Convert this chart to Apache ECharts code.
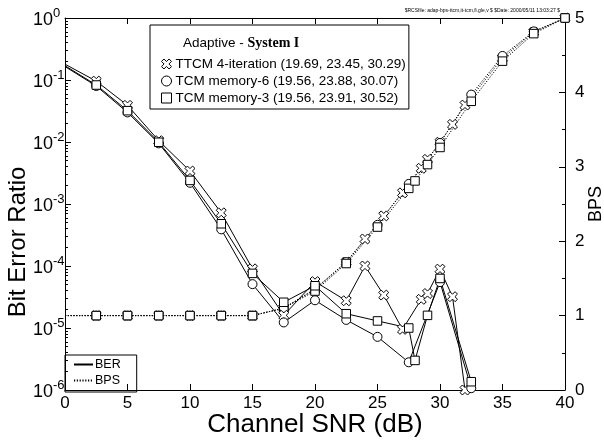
<!DOCTYPE html>
<html>
<head>
<meta charset="utf-8">
<script src="https://cdn.jsdelivr.net/npm/echarts@6/dist/echarts.min.js"></script>
<style>
  html, body { margin: 0; padding: 0; background: #fff; }
  #chart { width: 604px; height: 441px; }
</style>
</head>
<body>
<div id="chart"></div>
<script>
// TTCM 4-iteration (cross markers)
const snrTtcm = [0, 2.5, 5, 7.5, 10, 12.5, 15, 17.5, 20, 22.5, 24, 25.5, 27, 28.5, 29, 30, 31, 32, 35, 37.5, 40]
const berTtcm = [0.18, 0.096, 0.039, 0.0105, 0.0034, 7.2e-4, 9e-5, 1.6e-5, 5.6e-5, 2.75e-5, 1.0e-4, 3.4e-5, 9.5e-6, 2.9e-5, 3.6e-5, 8.9e-5, 3.2e-5, 1.0e-6, null, null, null]
const bpsTtcm = [1, 1, 1, 1, 1, 1, 1, 1.1, 1.35, 1.72, 2.03, 2.34, 2.65, 2.98, 3.1, 3.33, 3.57, 3.83, 4.46, 4.81, 5.0]

// TCM memory-6 (circle markers)
const snrMem6 = [0, 2.5, 5, 7.5, 10, 12.5, 15, 17.5, 20, 22.5, 25, 27.5, 30, 32.5, 35, 37.5, 40]
const berMem6 = [0.165, 0.08, 0.03, 0.0095, 0.0022, 3.9e-4, 5.1e-5, 1.23e-5, 2.8e-5, 1.35e-5, 7.2e-6, 2.8e-6, 5.5e-5, 1.07e-6, null, null, null]
const bpsMem6 = [1, 1, 1, 1, 1, 1, 1, 1.1, 1.36, 1.72, 2.22, 2.77, 3.32, 3.97, 4.49, 4.82, 5.0]

// TCM memory-3 (square markers)
const snrMem3 = [0, 2.5, 5, 7.5, 10, 12.5, 15, 17.5, 20, 22.5, 25, 27.5, 28, 29, 30, 32.5, 35, 37.5, 40]
const berMem3 = [0.17, 0.083, 0.032, 0.0099, 0.0024, 4.8e-4, 7.6e-5, 2.6e-5, 4.8e-5, 1.7e-5, 1.3e-5, 1.0e-5, 3.0e-6, 1.6e-5, 6.3e-5, 1.36e-6, null, null, null]
const bpsMem3 = [1, 1, 1, 1, 1, 1, 1, 1.1, 1.33, 1.7, 2.19, 2.71, 2.81, 3.03, 3.26, 3.88, 4.42, 4.79, 5.0]

const nameTtcm = 'TTCM 4-iteration (19.69, 23.45, 30.29)'
const nameMem6 = 'TCM memory-6 (19.56, 23.88, 30.07)'
const nameMem3 = 'TCM memory-3 (19.56, 23.91, 30.52)'

const berThreshold = 1e-4
const rcsText = '$RCSfile: adap-bps-ttcm,it-tcm,fi.gle,v $ $Date: 2000/05/11 13:03:27 $'

const FONT = '"Liberation Sans", Arial, sans-serif'
const crossPath = 'path://M7.4,0.33L9.67,2.6L7.26,5L9.67,7.4L7.4,9.67L5,7.26L2.6,9.67L0.33,7.4L2.74,5L0.33,2.6L2.6,0.33L5,2.74Z'
const DOTS = [1.2, 1.6]

// minor ticks of the log axis, in log10 units (2..9 x 10^n)
const minorLogTicks = []
for (let e = -6; e < 0; e++) {
  for (let k = 2; k <= 9; k++) minorLogTicks.push(e + Math.log10(k))
}

function pairs(xs, ys) {
  const out = []
  xs.forEach((x, i) => {
    if (ys[i] == null) return
    // the curves start on the axis without a marker
    out.push(x === 0 ? { value: [x, ys[i]], symbol: 'none' } : [x, ys[i]])
  })
  return out
}

const markerStyle = { color: '#fff', borderColor: '#000', borderWidth: 1 }

function makeSeries(name, symbol, size, xs, ys, axis, dotted) {
  return {
    name,
    type: 'line',
    yAxisIndex: axis,
    data: pairs(xs, ys),
    symbol,
    symbolSize: size,
    showAllSymbol: true,
    clip: false,
    lineStyle: { color: '#000', width: 1, type: dotted ? DOTS : 'solid' },
    itemStyle: markerStyle,
    emphasis: { disabled: true },
    z: dotted ? 2 : 3,
  }
}

const series = [
  makeSeries(nameTtcm, crossPath, 10, snrTtcm, berTtcm, 0, false),
  makeSeries(nameMem6, 'circle', 9, snrMem6, berMem6, 0, false),
  makeSeries(nameMem3, 'rect', 8.5, snrMem3, berMem3, 0, false),
  makeSeries(nameTtcm, crossPath, 10, snrTtcm, bpsTtcm, 1, true),
  makeSeries(nameMem6, 'circle', 9, snrMem6, bpsMem6, 1, true),
  makeSeries(nameMem3, 'rect', 8.5, snrMem3, bpsMem3, 1, true),
  { name: 'BER', type: 'line', data: [], symbol: 'none', itemStyle: { color: '#000' }, lineStyle: { color: '#000', width: 1 } },
  { name: 'BPS', type: 'line', data: [], symbol: 'none', yAxisIndex: 1, itemStyle: { color: '#000' }, lineStyle: { color: '#000', width: 1, type: DOTS } },
]

series[2].markLine = {
  silent: true,
  symbol: 'none',
  lineStyle: { color: '#000', width: 1, type: [1.2, 1.8] },
  label: {
    formatter: '0.01 percent',
    position: 'insideEndTop',
    color: '#000',
    fontFamily: FONT,
    fontSize: 13,
    padding: [0, 16, 0, 0],
  },
  data: [{ yAxis: berThreshold }],
}

const axisLine = { show: true, onZero: false, lineStyle: { color: '#000', width: 1 } }

const chart = echarts.init(document.getElementById('chart'), null, { renderer: 'canvas' })
chart.setOption({
  animation: false,
  backgroundColor: '#fff',
  textStyle: { fontFamily: FONT, color: '#000' },
  title: [
    {
      text: '{a|Adaptive - }{b|System I}',
      left: 183,
      top: 36,
      padding: 0,
      textStyle: {
        fontWeight: 'normal',
        rich: {
          a: { fontFamily: FONT, fontSize: 13.5, fontWeight: 'normal', color: '#000' },
          b: { fontFamily: '"Liberation Serif", "Times New Roman", serif', fontSize: 14, fontWeight: 'bold', color: '#000' },
        },
      },
    },
    {
      text: rcsText,
      right: 44,
      top: 8,
      padding: 0,
      textStyle: { fontFamily: FONT, fontSize: 5, fontWeight: 'normal', color: '#000' },
    },
  ],
  legend: [
    {
      data: [
        { name: nameTtcm, icon: crossPath },
        { name: nameMem6, icon: 'circle' },
        { name: nameMem3, icon: 'rect' },
      ],
      orient: 'vertical',
      left: 150,
      top: 25,
      padding: [32, 3, 4, 11],
      itemWidth: 10,
      itemHeight: 10,
      itemGap: 3,
      borderColor: '#000',
      borderWidth: 1,
      selectedMode: false,
      itemStyle: markerStyle,
      textStyle: { fontFamily: FONT, fontSize: 13.5, color: '#000', padding: [0, 0, 0, -1] },
    },
    {
      data: ['BER', 'BPS'],
      orient: 'vertical',
      left: 65,
      top: 355,
      padding: [3, 16, 5, 8],
      itemWidth: 19,
      itemHeight: 8,
      itemGap: 3,
      borderColor: '#000',
      borderWidth: 1,
      selectedMode: false,
      itemStyle: { opacity: 0 },
      textStyle: { fontFamily: FONT, fontSize: 12.5, color: '#000', padding: [0, 0, 0, -3] },
    },
  ],
  grid: { left: 65, right: 39, top: 18, bottom: 51, outerBoundsMode: 'none' },
  xAxis: [
    {
      type: 'value',
      min: 0,
      max: 40,
      interval: 5,
      position: 'bottom',
      name: 'Channel SNR (dB)',
      nameLocation: 'middle',
      nameMoveOverlap: false,
      nameGap: 22,
      nameTextStyle: { fontFamily: FONT, fontSize: 26, color: '#000' },
      axisLine,
      axisTick: { inside: true, length: 6, lineStyle: { color: '#000' } },
      axisLabel: { fontFamily: FONT, fontSize: 17, color: '#000', margin: 5 },
      splitLine: { show: false },
    },
    {
      type: 'value',
      min: 0,
      max: 40,
      interval: 5,
      position: 'top',
      axisLine,
      axisTick: { inside: true, length: 6, lineStyle: { color: '#000' } },
      axisLabel: { show: false },
      splitLine: { show: false },
    },
  ],
  yAxis: [
    {
      type: 'log',
      logBase: 10,
      min: 1e-6,
      max: 1,
      splitNumber: 6,
      position: 'left',
      name: 'Bit Error Ratio',
      nameLocation: 'middle',
      nameMoveOverlap: false,
      nameRotate: 90,
      nameGap: 35,
      nameTextStyle: { fontFamily: FONT, fontSize: 24, color: '#000', padding: [0, 76, 0, 0] },
      axisLine,
      axisTick: { inside: true, length: 6, lineStyle: { color: '#000' } },
      axisLabel: {
        align: 'left',
        margin: 32,
        formatter: (v) => '{b|10}{s|' + Math.round(Math.log10(v)) + '}',
        rich: {
          b: { fontFamily: FONT, fontSize: 18, color: '#000', verticalAlign: 'bottom' },
          s: { fontFamily: FONT, fontSize: 13, color: '#000', verticalAlign: 'top', padding: [0, 0, 9, 0] },
        },
      },
      splitLine: { show: false },
    },
    {
      type: 'value',
      min: 0,
      max: 5,
      interval: 1,
      position: 'right',
      name: 'BPS',
      nameLocation: 'middle',
      nameMoveOverlap: false,
      nameRotate: 90,
      nameGap: 22,
      nameTextStyle: { fontFamily: FONT, fontSize: 18, color: '#000' },
      axisLine,
      axisTick: { inside: true, length: 6, lineStyle: { color: '#000' } },
      minorTick: { show: true, splitNumber: 2, length: 3, lineStyle: { color: '#000' } },
      axisLabel: { fontFamily: FONT, fontSize: 17, color: '#000', margin: 10 },
      splitLine: { show: false },
    },
    {
      // only draws the minor ticks of the log axis
      type: 'value',
      min: -6,
      max: 0,
      position: 'left',
      axisLine: { show: false },
      axisTick: { show: true, inside: true, length: 3, customValues: minorLogTicks, lineStyle: { color: '#000' } },
      axisLabel: { show: false },
      splitLine: { show: false },
    },
  ],
  series,
})
</script>
</body>
</html>
